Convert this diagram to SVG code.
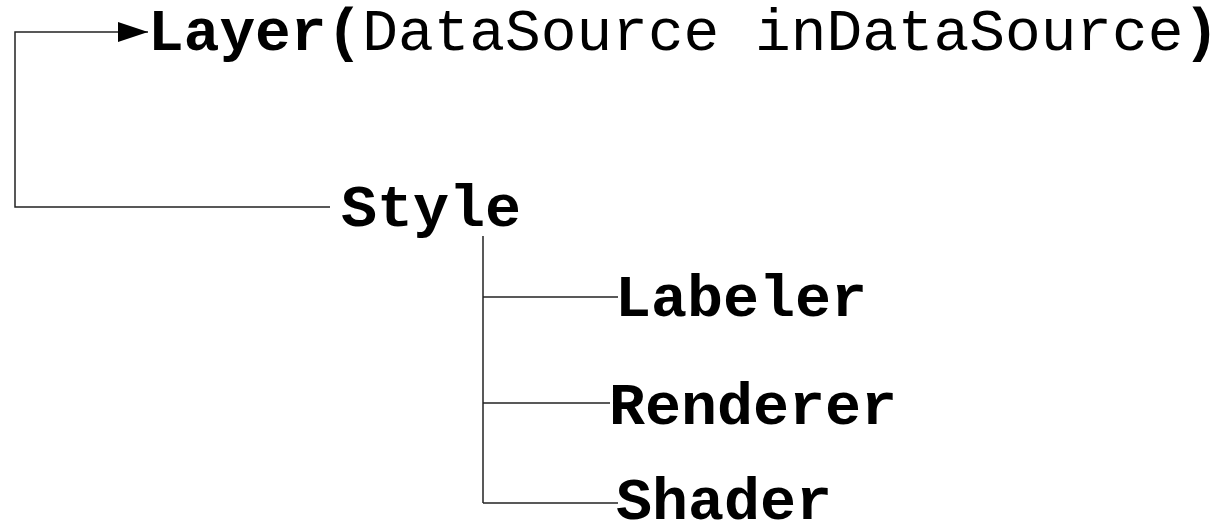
<svg xmlns="http://www.w3.org/2000/svg" width="1229" height="523" viewBox="0 0 1229 523">
<style>
text{font-family:"Liberation Mono","Courier New",monospace;font-size:60px;fill:#000}
.b{font-weight:bold}
.n{font-weight:normal}
.c{stroke:#222;stroke-width:1.5;fill:none}
</style>
<defs>
<marker id="ah" markerWidth="30" markerHeight="20" refX="30" refY="10" orient="auto" markerUnits="userSpaceOnUse">
<path d="M0,0 L30,10 L0,20 Z" fill="#000"/>
</marker>
</defs>
<rect width="1229" height="523" fill="#fff"/>
<g id="connectors">
<path class="c" d="M330,207 H15 V32 H148" marker-end="url(#ah)"/>
<path class="c" d="M483,236 V503"/>
<path class="c" d="M483,297 H618"/>
<path class="c" d="M483,403 H610"/>
<path class="c" d="M483,503 H618"/>
</g>
<g id="layer"><text x="148" y="50" class="b" style="font-size:59.5px">Layer(<tspan class="n">DataSource inDataSource</tspan>)</text></g>
<g id="style"><text x="341" y="226" class="b">Style</text></g>
<g id="labeler"><text x="615" y="316" class="b">Labeler</text></g>
<g id="renderer"><text x="609" y="424" class="b">Renderer</text></g>
<g id="shader"><text x="616" y="519" class="b">Shader</text></g>
</svg>
